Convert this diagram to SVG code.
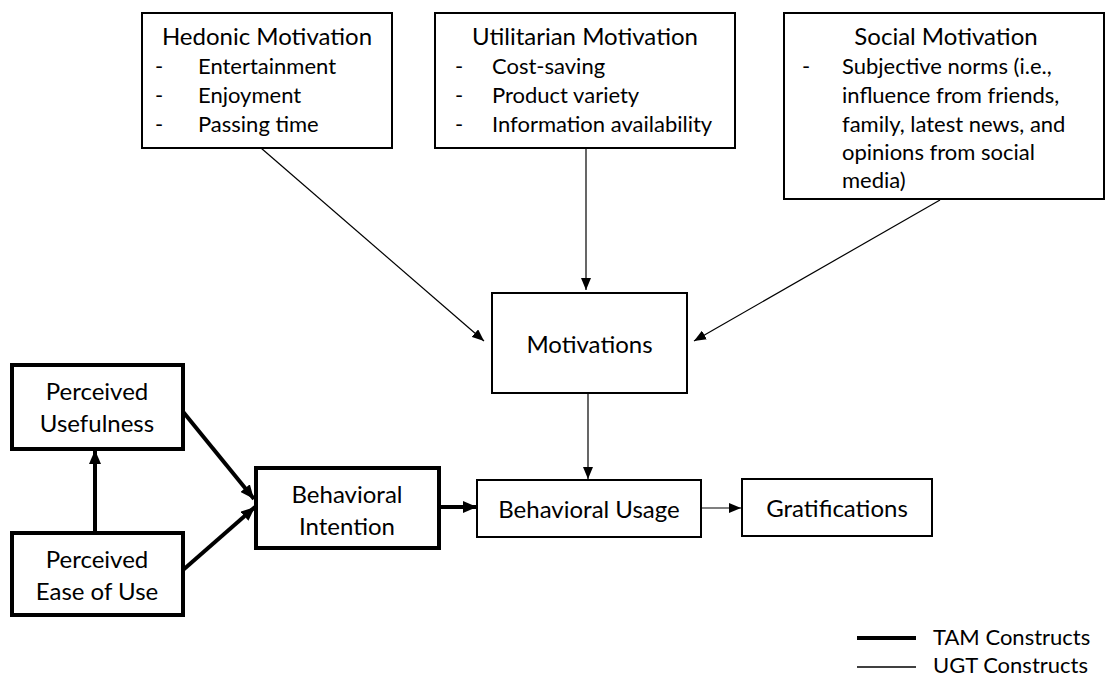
<svg xmlns="http://www.w3.org/2000/svg" width="1106" height="677" viewBox="0 0 1106 677">
<style>
text{font-family:Lato,"Open Sans","Liberation Sans",sans-serif;font-size:24px;fill:#000}
.i{font-size:22px}
.c{text-anchor:middle}
.thin{fill:#fff;stroke:#000;stroke-width:2}
.thick{fill:#fff;stroke:#000;stroke-width:4}
.ln{stroke:#000;stroke-width:1.2;fill:none}
.tk{stroke:#000;stroke-width:4;fill:none}
</style>
<defs>
<marker id="a" markerUnits="userSpaceOnUse" viewBox="0 0 12 10" markerWidth="12" markerHeight="10" refX="12" refY="5" orient="auto"><path d="M0,0L12,5L0,10z" fill="#000"/></marker>
<marker id="b" markerUnits="userSpaceOnUse" viewBox="0 0 14 12" markerWidth="14" markerHeight="12" refX="14" refY="6" orient="auto"><path d="M0,0L14,6L0,12z" fill="#000"/></marker>
</defs>
<rect width="1106" height="677" fill="#fff"/>
<g id="connectors">
<line class="ln" x1="261" y1="148" x2="484" y2="341" marker-end="url(#a)"/>
<line class="ln" x1="586" y1="148" x2="586" y2="290" marker-end="url(#a)"/>
<line class="ln" x1="940" y1="200" x2="694" y2="341" marker-end="url(#a)"/>
<line class="ln" x1="588" y1="393" x2="588" y2="479" marker-end="url(#a)"/>
<line class="ln" x1="701" y1="508" x2="741" y2="508" marker-end="url(#a)"/>
<line class="tk" x1="180" y1="408" x2="254" y2="499" marker-end="url(#b)"/>
<line class="tk" x1="183" y1="570" x2="255" y2="507" marker-end="url(#b)"/>
<line class="tk" x1="95" y1="533" x2="95" y2="450" marker-end="url(#b)"/>
<line class="tk" x1="439" y1="507" x2="477" y2="507" marker-end="url(#b)"/>
</g>
<g id="hedonic">
<rect class="thin" x="142" y="13" width="250" height="135"/>
<text class="c" x="267" y="45">Hedonic Motivation</text>
<text class="i" x="155" y="74">-</text><text class="i" x="198" y="74">Entertainment</text>
<text class="i" x="155" y="103">-</text><text class="i" x="198" y="103">Enjoyment</text>
<text class="i" x="155" y="132">-</text><text class="i" x="198" y="132">Passing time</text>
</g>
<g id="utilitarian">
<rect class="thin" x="435" y="13" width="300" height="135"/>
<text class="c" x="585" y="45">Utilitarian Motivation</text>
<text class="i" x="455" y="74">-</text><text class="i" x="492" y="74">Cost-saving</text>
<text class="i" x="455" y="103">-</text><text class="i" x="492" y="103">Product variety</text>
<text class="i" x="455" y="132">-</text><text class="i" x="492" y="132">Information availability</text>
</g>
<g id="social">
<rect class="thin" x="784" y="13" width="320" height="186"/>
<text class="c" x="946" y="45">Social Motivation</text>
<text class="i" x="802" y="74">-</text><text class="i" x="842" y="74">Subjective norms (i.e.,</text>
<text class="i" x="842" y="103">influence from friends,</text>
<text class="i" x="842" y="132">family, latest news, and</text>
<text class="i" x="842" y="160">opinions from social</text>
<text class="i" x="842" y="188">media)</text>
</g>
<g id="motivations">
<rect class="thin" x="492" y="293" width="195" height="100"/>
<text class="c" x="589.5" y="353">Motivations</text>
</g>
<g id="pu">
<rect class="thick" x="12" y="365" width="171" height="84"/>
<text class="c" x="97" y="400">Perceived</text>
<text class="c" x="97" y="432">Usefulness</text>
</g>
<g id="peou">
<rect class="thick" x="12" y="533" width="171" height="82"/>
<text class="c" x="97" y="568">Perceived</text>
<text class="c" x="97" y="600">Ease of Use</text>
</g>
<g id="bi">
<rect class="thick" x="256" y="468" width="183" height="80"/>
<text class="c" x="347" y="503">Behavioral</text>
<text class="c" x="347" y="535">Intention</text>
</g>
<g id="bu">
<rect class="thin" x="477" y="480" width="224" height="57"/>
<text class="c" x="589" y="518">Behavioral Usage</text>
</g>
<g id="grat">
<rect class="thin" x="742" y="479" width="190" height="57"/>
<text class="c" x="837" y="517">Gratifications</text>
</g>
<g id="legend">
<line x1="857" y1="638" x2="916" y2="638" stroke="#000" stroke-width="4"/>
<text class="i" x="933" y="645">TAM Constructs</text>
<line x1="857" y1="667" x2="916" y2="667" stroke="#000" stroke-width="1.5"/>
<text class="i" x="933" y="673">UGT Constructs</text>
</g>
</svg>
